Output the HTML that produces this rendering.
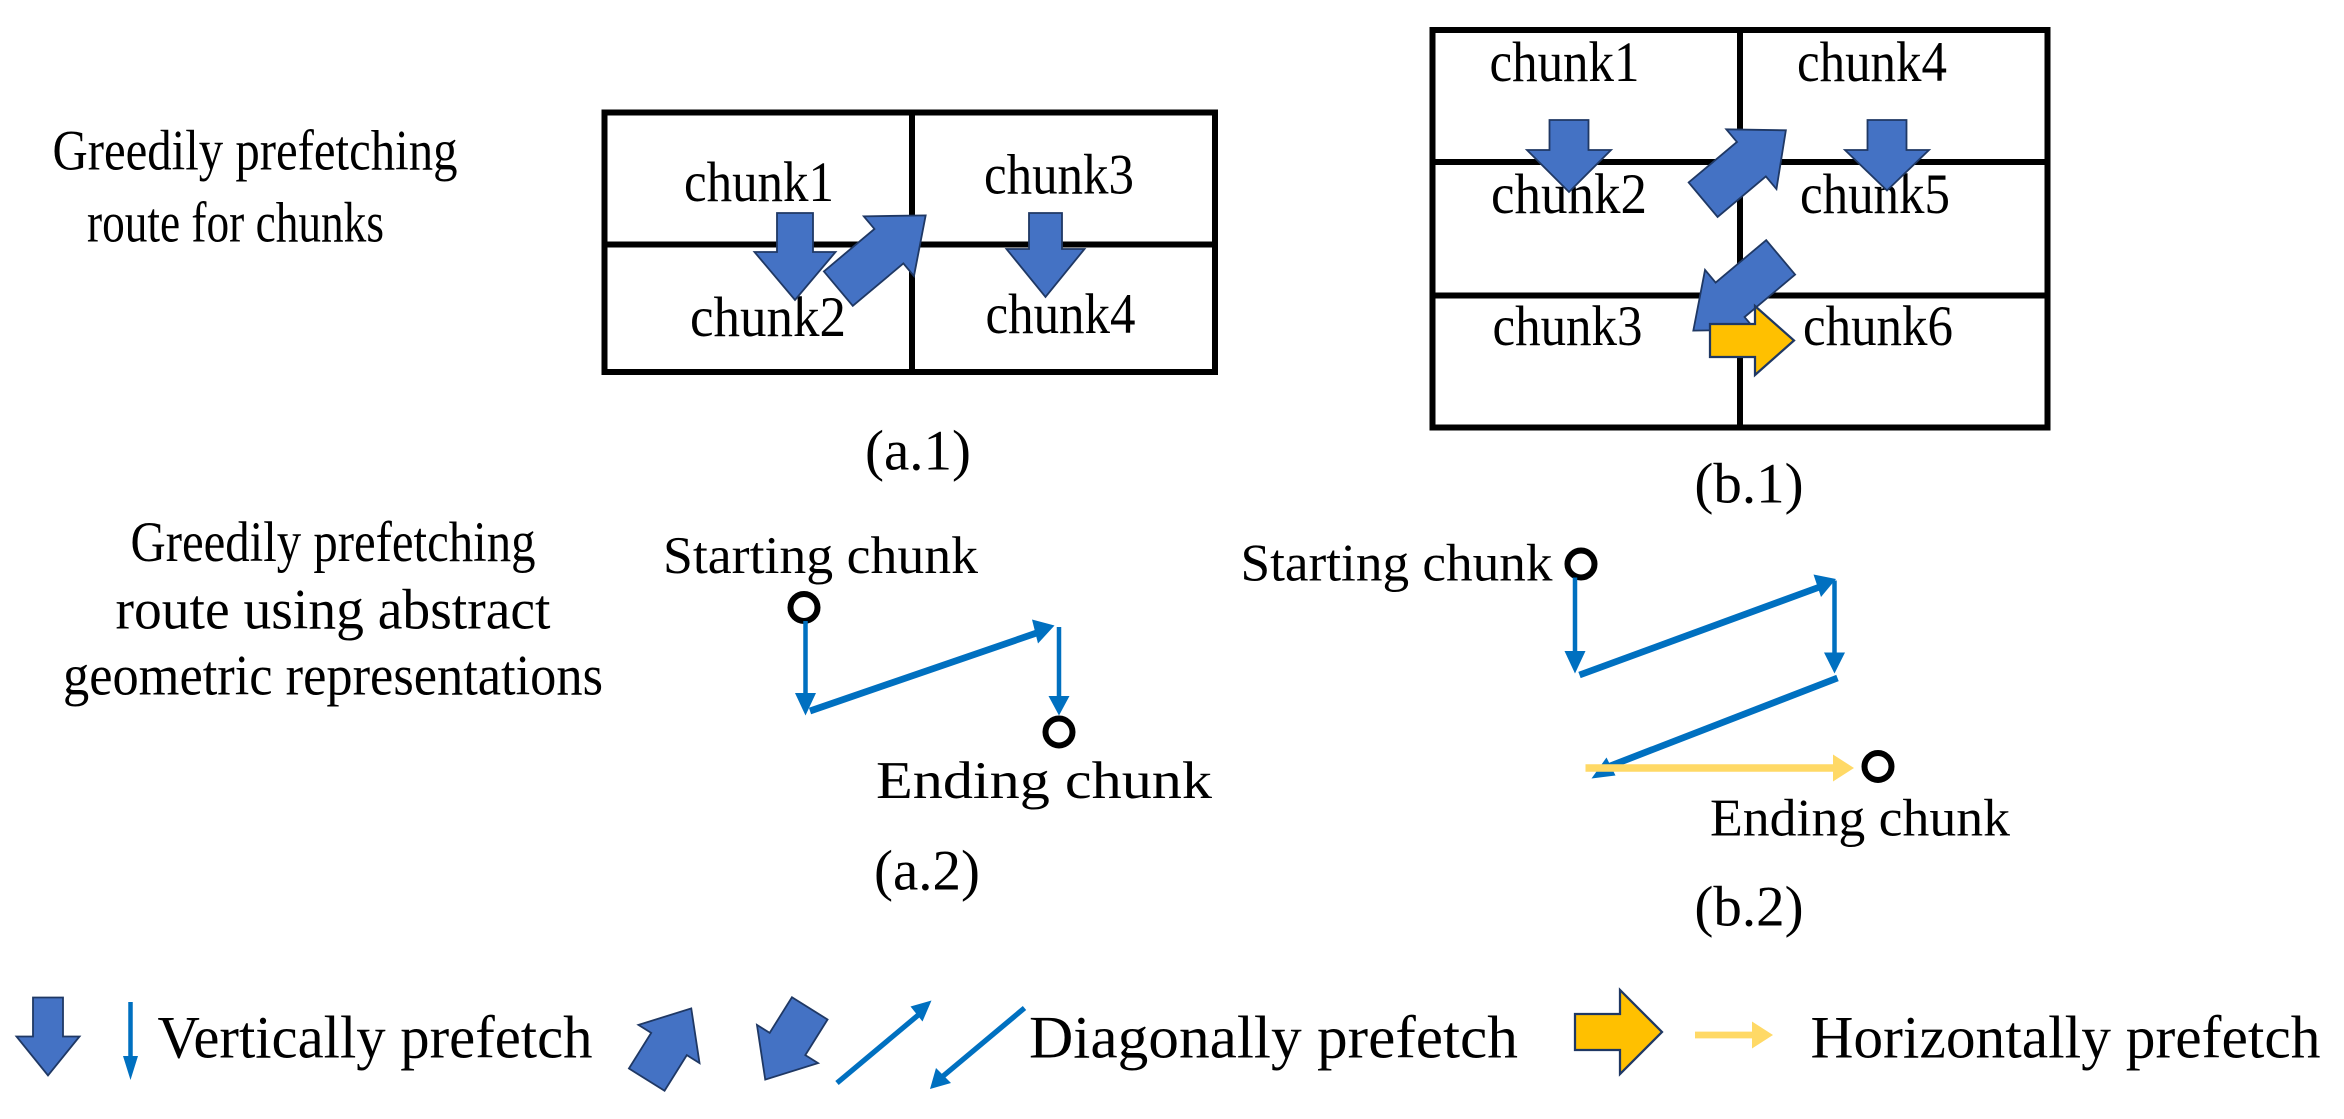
<!DOCTYPE html>
<html><head><meta charset="utf-8"><style>
html,body{margin:0;padding:0;background:#fff;}
svg{display:block;}
text{font-family:"Liberation Serif",serif;fill:#000;}
</style></head><body>
<svg width="2344" height="1119" viewBox="0 0 1562.67 746" xmlns="http://www.w3.org/2000/svg">
<style>
.blk{fill:#4472C4;stroke:#1F3864;stroke-width:1.2;}
.yel{fill:#FFC000;stroke:#1F3864;stroke-width:1.5;}
.tb{fill:none;stroke:#000;stroke-width:4;}
.bl{stroke:#0070C0;fill:none;}
.ah{fill:#0070C0;}
.t32{font-size:38px;}
.sm{font-size:35px;}
.lg{font-size:40px;}
</style>

<text class="t32" x="170" y="113" text-anchor="middle" textLength="270" lengthAdjust="spacingAndGlyphs">Greedily prefetching</text>
<text class="t32" x="157" y="161" text-anchor="middle" textLength="198" lengthAdjust="spacingAndGlyphs">route for chunks</text>

<!-- a.1 table -->
<rect class="tb" x="403" y="75" width="407" height="173"/>
<line class="tb" x1="608" y1="75" x2="608" y2="248"/>
<line class="tb" x1="403" y1="163" x2="810" y2="163"/>
<text class="t32" x="506" y="134" text-anchor="middle" textLength="100" lengthAdjust="spacingAndGlyphs">chunk1</text>
<text class="t32" x="706" y="129" text-anchor="middle" textLength="100" lengthAdjust="spacingAndGlyphs">chunk3</text>
<text class="t32" x="512" y="224" text-anchor="middle" textLength="104" lengthAdjust="spacingAndGlyphs">chunk2</text>
<text class="t32" x="707" y="222" text-anchor="middle" textLength="100" lengthAdjust="spacingAndGlyphs">chunk4</text>
<polygon class="blk" transform="translate(530,142) rotate(90)" points="0,-12 26,-12 26,-27 58,0 26,27 26,12 0,12"/>
<polygon class="blk" transform="translate(697,142) rotate(90)" points="0,-11 24,-11 24,-26 56,0 24,26 24,11 0,11"/>
<polygon class="blk" transform="translate(588,168) rotate(-40) translate(-38,0)" points="0,-15 44,-15 44,-26 76,0 44,26 44,15 0,15"/>
<text class="t32" x="612" y="313" text-anchor="middle">(a.1)</text>

<!-- b.1 table -->
<rect class="tb" x="955" y="20" width="410" height="265"/>
<line class="tb" x1="1160" y1="20" x2="1160" y2="285"/>
<line class="tb" x1="955" y1="108" x2="1365" y2="108"/>
<line class="tb" x1="955" y1="197" x2="1365" y2="197"/>
<text class="t32" x="1043" y="54" text-anchor="middle" textLength="100" lengthAdjust="spacingAndGlyphs">chunk1</text>
<text class="t32" x="1248" y="54" text-anchor="middle" textLength="100" lengthAdjust="spacingAndGlyphs">chunk4</text>
<text class="t32" x="1046" y="142" text-anchor="middle" textLength="104" lengthAdjust="spacingAndGlyphs">chunk2</text>
<text class="t32" x="1250" y="142" text-anchor="middle" textLength="100" lengthAdjust="spacingAndGlyphs">chunk5</text>
<text class="t32" x="1045" y="230" text-anchor="middle" textLength="100" lengthAdjust="spacingAndGlyphs">chunk3</text>
<text class="t32" x="1252" y="230" text-anchor="middle" textLength="100" lengthAdjust="spacingAndGlyphs">chunk6</text>
<polygon class="blk" transform="translate(1046,80) rotate(90)" points="0,-13 20,-13 20,-28 48,0 20,28 20,13 0,13"/>
<polygon class="blk" transform="translate(1258,80) rotate(90)" points="0,-13 20,-13 20,-28 47,0 20,28 20,13 0,13"/>
<polygon class="blk" transform="translate(1163,110) rotate(-40) translate(-36,0)" points="0,-15 42,-15 42,-26 72,0 42,26 42,15 0,15"/>
<polygon class="blk" transform="translate(1158,196) rotate(140) translate(-38,0)" points="0,-15 44,-15 44,-26 76,0 44,26 44,15 0,15"/>
<polygon class="yel" transform="translate(1140,227)" points="0,-11 30,-11 30,-23 56,0 30,23 30,11 0,11"/>
<text class="t32" x="1166" y="335" text-anchor="middle">(b.1)</text>

<!-- second row labels -->
<text class="t32" x="222" y="374" text-anchor="middle" textLength="270" lengthAdjust="spacingAndGlyphs">Greedily prefetching</text>
<text class="t32" x="222" y="419" text-anchor="middle" textLength="290" lengthAdjust="spacingAndGlyphs">route using abstract</text>
<text class="t32" x="222" y="463" text-anchor="middle" textLength="360" lengthAdjust="spacingAndGlyphs">geometric representations</text>

<!-- a.2 -->
<text class="sm" x="547" y="382" text-anchor="middle" textLength="210" lengthAdjust="spacingAndGlyphs">Starting chunk</text>
<circle cx="536" cy="405" r="9" fill="#fff" stroke="#000" stroke-width="4"/>
<line class="bl" stroke-width="3" x1="537" y1="414" x2="537" y2="464"/>
<polygon class="ah" points="530,462 544,462 537,477"/>
<line class="bl" stroke-width="4.5" x1="540" y1="474" x2="694" y2="421"/>
<polygon class="ah" points="688,413 703,417 692,429"/>
<line class="bl" stroke-width="3" x1="706" y1="418" x2="706" y2="465"/>
<polygon class="ah" points="699,464 713,464 706,477"/>
<circle cx="706" cy="488" r="9" fill="#fff" stroke="#000" stroke-width="4"/>
<text class="sm" x="696" y="532" text-anchor="middle" textLength="224" lengthAdjust="spacingAndGlyphs">Ending chunk</text>
<text class="t32" x="618" y="593" text-anchor="middle">(a.2)</text>

<!-- b.2 -->
<text class="sm" x="931" y="387" text-anchor="middle" textLength="208" lengthAdjust="spacingAndGlyphs">Starting chunk</text>
<circle cx="1054" cy="376" r="9" fill="#fff" stroke="#000" stroke-width="4"/>
<line class="bl" stroke-width="3" x1="1050" y1="385" x2="1050" y2="436"/>
<polygon class="ah" points="1043,434 1057,434 1050,449"/>
<line class="bl" stroke-width="4.5" x1="1053" y1="450" x2="1214" y2="391"/>
<polygon class="ah" points="1209,383 1224,386 1214,398"/>
<line class="bl" stroke-width="3" x1="1223" y1="387" x2="1223" y2="437"/>
<polygon class="ah" points="1216,435 1230,435 1223,449"/>
<line class="bl" stroke-width="4.5" x1="1225" y1="452" x2="1070" y2="512"/>
<polygon class="ah" points="1061,519 1071,505 1077,517"/>
<line stroke="#FFD966" stroke-width="5" x1="1057" y1="512" x2="1224" y2="512"/>
<polygon fill="#FFD966" points="1222,503 1236,512 1222,521"/>
<circle cx="1252" cy="511" r="9" fill="#fff" stroke="#000" stroke-width="4"/>
<text class="sm" x="1240" y="557" text-anchor="middle" textLength="200" lengthAdjust="spacingAndGlyphs">Ending chunk</text>
<text class="t32" x="1166" y="617" text-anchor="middle">(b.2)</text>

<!-- legend -->
<polygon class="blk" transform="translate(32,665) rotate(90)" points="0,-10 26,-10 26,-21 52,0 26,21 26,10 0,10"/>
<line class="bl" stroke-width="3" x1="87" y1="668" x2="87" y2="706"/>
<polygon class="ah" points="82,704 92,704 87,720"/>
<text class="lg" x="250" y="705" text-anchor="middle" textLength="290" lengthAdjust="spacingAndGlyphs">Vertically prefetch</text>
<polygon class="blk" transform="translate(446,696) rotate(-58) translate(-28,0)" points="0,-14 28,-14 28,-24 56,0 28,24 28,14 0,14"/>
<polygon class="blk" transform="translate(525,696) rotate(122) translate(-28,0)" points="0,-14 28,-14 28,-24 56,0 28,24 28,14 0,14"/>
<line class="bl" stroke-width="3.5" x1="558" y1="722" x2="613" y2="676"/>
<polygon class="ah" points="607,671 621,667 615,681"/>
<line class="bl" stroke-width="3.5" x1="683" y1="672" x2="628" y2="718"/>
<polygon class="ah" points="620,726 624,712 634,722"/>
<text class="lg" x="849" y="705" text-anchor="middle" textLength="326" lengthAdjust="spacingAndGlyphs">Diagonally prefetch</text>
<polygon class="yel" points="1050,676 1080,676 1080,660 1108,688 1080,716 1080,700 1050,700"/>
<line stroke="#FFD966" stroke-width="4.5" x1="1130" y1="690" x2="1170" y2="690"/>
<polygon fill="#FFD966" points="1168,681 1182,690 1168,699"/>
<text class="lg" x="1377" y="705" text-anchor="middle" textLength="340" lengthAdjust="spacingAndGlyphs">Horizontally prefetch</text>
</svg>
</body></html>
